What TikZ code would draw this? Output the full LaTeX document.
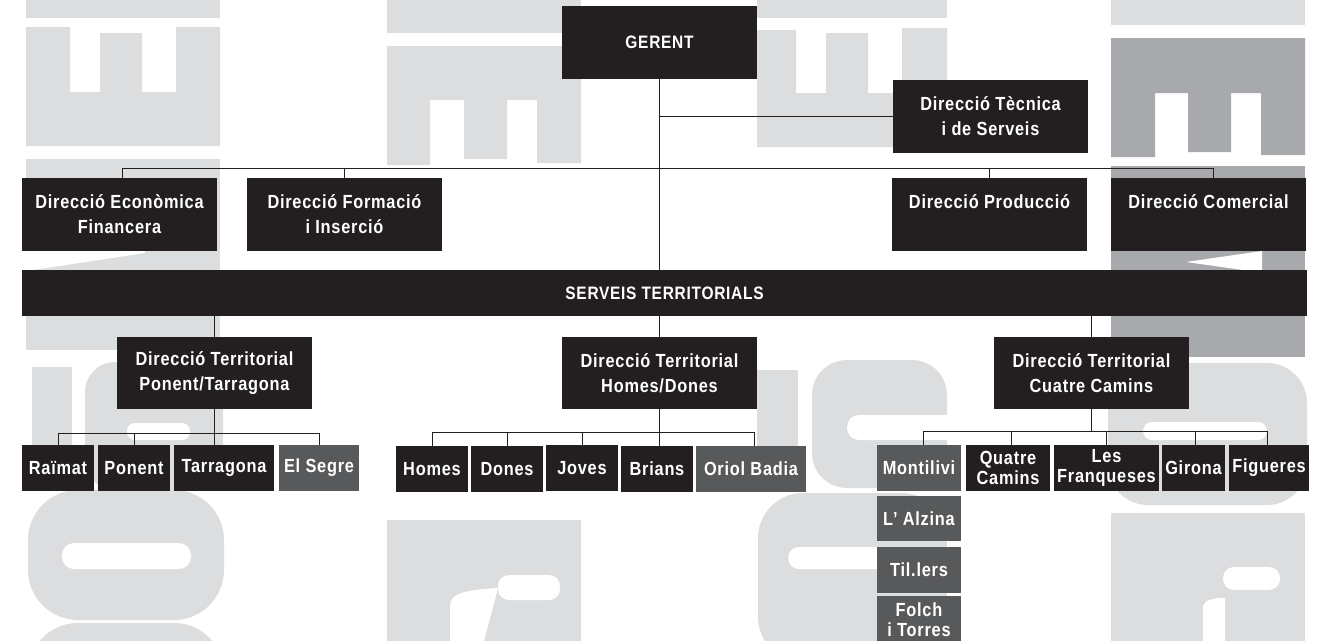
\documentclass[tikz,border=0pt]{standalone}
\usepackage{fontspec}
\setmainfont{Liberation Sans}[FakeStretch=0.86,LetterSpace=4]
\definecolor{boxblack}{HTML}{231F20}
\definecolor{boxgrey}{HTML}{58595B}
\definecolor{wmlight}{HTML}{DCDDDF}
\definecolor{wmdark}{HTML}{A7A9AC}
\definecolor{linecol}{HTML}{231F20}
\begin{document}
\begin{tikzpicture}[x=1pt,y=-1pt,
  box/.style={fill=boxblack,text=white,inner sep=0pt,align=center,
    font=\fontsize{19}{25}\selectfont\bfseries},
  bigbox/.style={box,minimum width=195pt,minimum height=73pt},
  kid/.style={box,minimum height=46pt,font=\fontsize{19}{20}\selectfont\bfseries},
  kidgrey/.style={kid,fill=boxgrey},
  conn/.style={draw=linecol,line width=1pt},
  wm/.style={fill=wmlight},
  wmd/.style={fill=wmdark}]
\useasboundingbox (0,0) rectangle (1325,640);
\begin{scope}
\clip (0,0) rectangle (1325,640);
% ---- column 1 ----
\fill[wm] (26,0) rectangle (220,18);
\fill[wm] (26,27) -- (70,27) -- (70,92) -- (100,92) -- (100,33) -- (142,33) -- (142,92) -- (176,92) -- (176,27) -- (220,27) -- (220,146) -- (26,146) -- cycle;
\fill[wm] (26,159) rectangle (220,350);
\fill[white] (26,251) -- (145,251) -- (145,253) -- (33,270) -- (26,270) -- cycle;
\fill[wm] (32,367) rectangle (72,483);
\fill[wm,rounded corners=30pt] (85,362) rectangle (223,490);
\fill[white,rounded corners=8pt] (127,423) rectangle (190,440);
\fill[wm,rounded corners=50pt] (28,490) rectangle (224,620);
\fill[white,rounded corners=12pt] (62,543) rectangle (191,569);
\fill[wm,rounded corners=50pt] (28,623) rectangle (224,760);
% ---- column 2 ----
\fill[wm] (387,0) rectangle (581,33);
\fill[wm] (387,46) -- (581,46) -- (581,163) -- (537,163) -- (537,100) -- (507,100) -- (507,159) -- (464,159) -- (464,100) -- (430,100) -- (430,165) -- (387,165) -- cycle;
\fill[wm] (387,520) rectangle (581,660);
\fill[white,rounded corners=11pt] (498,575) rectangle (560,600);
\fill[white] (450,645) -- (450,604) .. controls (452,594) and (462,590) .. (498,588) -- (483,645) -- cycle;
% ---- column 3 ----
\fill[wm] (757,0) rectangle (947,18);
\fill[wm] (757,30) -- (796,30) -- (796,93) -- (826,93) -- (826,33) -- (868,33) -- (868,93) -- (902,93) -- (902,28) -- (947,28) -- (947,147) -- (757,147) -- cycle;
\fill[wm] (757,370) rectangle (798,488);
\fill[wm,rounded corners=35pt] (812,360) rectangle (947,488);
\fill[white,rounded corners=12pt] (847,415) rectangle (960,440);
\fill[wm,rounded corners=45pt] (758,493) rectangle (947,662);
\fill[white,rounded corners=11pt] (788,547) rectangle (960,569);
% ---- column 4 ----
\fill[wm] (1111,0) rectangle (1305,25);
\fill[wmd] (1111,38) -- (1305,38) -- (1305,155) -- (1261,155) -- (1261,93) -- (1231,93) -- (1231,152) -- (1188,152) -- (1188,93) -- (1155,93) -- (1155,157) -- (1111,157) -- cycle;
\fill[wmd] (1111,166) rectangle (1305,357);
\fill[white] (1186,262) -- (1262,251) -- (1262,270) -- (1243,270) -- cycle;
\fill[wm,rounded corners=40pt] (1108,363) rectangle (1307,505);
\fill[white,rounded corners=9pt] (1143,422) rectangle (1267,440);
\fill[wm] (1111,513) rectangle (1305,660);
\fill[white,rounded corners=11pt] (1223,567) rectangle (1280,590);
\fill[white] (1203,645) -- (1203,606) .. controls (1205,600) and (1212,598) .. (1225,598) -- (1225,645) -- cycle;
\end{scope}
% ---- boxes ----
\node[bigbox,font=\fontsize{18}{25}\selectfont\bfseries] (gerent) at (659.5,42.5) {GERENT};
\node[bigbox] (tecnica) at (990.5,116.5) {Direcció Tècnica\\i de Serveis};
\node[bigbox] (econ) at (119.5,214.5) {Direcció Econòmica\\Financera};
\node[bigbox] (formacio) at (344.5,214.5) {Direcció Formació\\i Inserció};
\node[bigbox] (produccio) at (989.5,214.5) {Direcció Producció\\~};
\node[bigbox] (comercial) at (1208.5,214.5) {Direcció Comercial\\~};
\node[box,minimum width=1285pt,minimum height=46pt,font=\fontsize{18}{20}\selectfont\bfseries] (serveis) at (664.5,293) {SERVEIS TERRITORIALS};
\node[bigbox,minimum height=72pt] (pt) at (214.5,373) {Direcció Territorial\\Ponent/Tarragona};
\node[bigbox,minimum height=72pt] (hd) at (659.5,373) {Direcció Territorial\\Homes/Dones};
\node[bigbox,minimum height=72pt] (cc) at (1091.5,373) {Direcció Territorial\\Cuatre Camins};
% Ponent/Tarragona children
\node[kid,minimum width=72pt] (raimat) at (58,468) {Raïmat};
\node[kid,minimum width=72pt] (ponent) at (134,468) {Ponent};
\node[kid,minimum width=100pt] (tarragona) at (224,468) {Tarragona};
\node[kidgrey,minimum width=80pt] (elsegre) at (319,468) {El Segre};
% Homes/Dones children
\node[kid,minimum width=72pt] (homes) at (432,469) {Homes};
\node[kid,minimum width=72pt] (dones) at (507,469) {Dones};
\node[kid,minimum width=72pt] (joves) at (582,468) {Joves};
\node[kid,minimum width=72pt] (brians) at (657,469) {Brians};
\node[kidgrey,minimum width=110pt] (oriol) at (751,469) {Oriol Badia};
% Cuatre Camins children
\node[kidgrey,minimum width=84pt] (montilivi) at (919,468) {Montilivi};
\node[kid,minimum width=84pt] (quatre) at (1008,468) {Quatre\\Camins};
\node[kid,minimum width=105pt] (les) at (1106.5,468) {Les\\Franqueses};
\node[kid,minimum width=63pt] (girona) at (1193.5,468) {Girona};
\node[kid,minimum width=80pt] (figueres) at (1269,468) {Figueres};
\node[kidgrey,minimum width=84pt,minimum height=45pt] (alzina) at (919,518.5) {L’ Alzina};
\node[kidgrey,minimum width=84pt] (tillers) at (919,570) {Til.lers};
\node[kidgrey,minimum width=84pt,minimum height=48pt] (folch) at (919,620) {Folch\\i Torres};
% ---- connectors ----
\coordinate (bus1) at (0,168);
\coordinate (bus2) at (0,433);
\coordinate (bus3) at (0,432);
\coordinate (bus4) at (0,431);
\draw[conn] (gerent.south) -- (gerent.south |- serveis.north);
\draw[conn] (gerent.south |- tecnica.west) -- (tecnica.west);
\draw[conn] ([xshift=2.5pt]econ.north) -- ([xshift=2.5pt]econ.north |- bus1) -- ([xshift=4.5pt]comercial.north |- bus1) -- ([xshift=4.5pt]comercial.north);
\draw[conn] (formacio.north) -- (formacio.north |- bus1);
\draw[conn] (produccio.north) -- (produccio.north |- bus1);
\draw[conn] (pt.north |- serveis.south) -- (pt.north);
\draw[conn] (hd.north |- serveis.south) -- (hd.north);
\draw[conn] (cc.north |- serveis.south) -- (cc.north);
% Ponent group
\draw[conn] (pt.south) -- (pt.south |- tarragona.north);
\draw[conn] (raimat.north) -- (raimat.north |- bus2) -- (elsegre.north |- bus2) -- (elsegre.north);
\draw[conn] (ponent.north) -- (ponent.north |- bus2);
% Homes group
\draw[conn] (hd.south) -- (hd.south |- brians.north);
\draw[conn] (homes.north) -- (homes.north |- bus3) -- ([xshift=3pt]oriol.north |- bus3) -- ([xshift=3pt]oriol.north);
\draw[conn] (dones.north) -- (dones.north |- bus3);
\draw[conn] (joves.north) -- (joves.north |- bus3);
% Cuatre Camins group
\draw[conn] (cc.south) -- (cc.south |- bus4);
\draw[conn] ([xshift=4pt]montilivi.north) -- ([xshift=4pt]montilivi.north |- bus4) -- ([xshift=-2pt]figueres.north |- bus4) -- ([xshift=-2pt]figueres.north);
\draw[conn] ([xshift=3pt]quatre.north) -- ([xshift=3pt]quatre.north |- bus4);
\draw[conn] (les.north) -- (les.north |- bus4);
\draw[conn] ([xshift=1.5pt]girona.north) -- ([xshift=1.5pt]girona.north |- bus4);
\end{tikzpicture}
\end{document}
